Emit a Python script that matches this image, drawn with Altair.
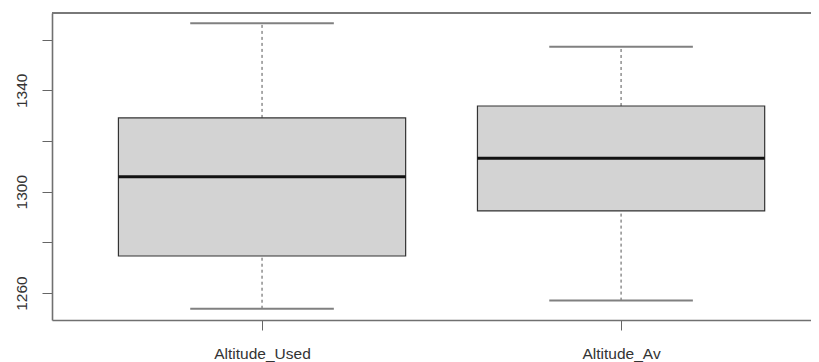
import altair as alt
import pandas as pd

# Data
categories = ["Altitude_Used", "Altitude_Av"]
positions = [1, 2]
lower_whisker = [1253.8, 1257.0]
q1 = [1274.6, 1292.4]
median = [1305.9, 1313.2]
q3 = [1329.1, 1333.8]
upper_whisker = [1366.5, 1357.2]
y_ticks = [1260, 1280, 1300, 1320, 1340, 1360]

df = pd.DataFrame({
    "category": categories,
    "pos": positions,
    "lower": lower_whisker,
    "q1": q1,
    "median": median,
    "q3": q3,
    "upper": upper_whisker,
})

FONT = "Liberation Sans"
FRAME = "#707070"
W = 759
H = 307

x_scale = alt.Scale(domain=[0.415, 2.529], nice=False, zero=False)
y_scale = alt.Scale(domain=[1249.35, 1370.5], nice=False, zero=False)

label_expr = "[" + ",".join("'" + c + "'" for c in categories) + "][datum.value - 1]"

x_axis = alt.Axis(
    values=positions, labelExpr=label_expr, title=None, grid=False,
    tickSize=10, tickColor="#666", tickWidth=1,
    domainColor=FRAME, domainWidth=1.6,
    labelFont=FONT, labelFontSize=15.5, labelColor="#333",
    labelPadding=16, labelOverlap=False, labelFlush=False, labelBound=False,
    labelBaseline="top",
)
y_axis = alt.Axis(
    values=y_ticks, format="d",
    labelExpr="datum.value % 40 == 20 ? datum.label : ''",
    title=None, grid=False,
    tickSize=10, tickColor="#666", tickWidth=1,
    domainColor=FRAME, domainWidth=1.6,
    labelFont=FONT, labelFontSize=15.5, labelColor="#333",
    labelAngle=270, labelAlign="center", labelBaseline="bottom",
    labelPadding=13, labelOverlap=False,
)

base = alt.Chart(df).transform_calculate(
    bl="datum.pos - 0.4", br="datum.pos + 0.4",
    cl="datum.pos - 0.2", cr="datum.pos + 0.2",
)

box = base.mark_rect(fill="#d3d3d3", stroke="#333", strokeWidth=1.2).encode(
    x=alt.X("bl:Q", scale=x_scale, axis=x_axis),
    x2="br:Q",
    y=alt.Y("q1:Q", scale=y_scale, axis=y_axis),
    y2="q3:Q",
)

med = base.mark_rule(color="#111", strokeWidth=3).encode(
    x=alt.X("bl:Q", scale=x_scale, axis=x_axis),
    x2="br:Q",
    y=alt.Y("median:Q", scale=y_scale, axis=y_axis),
)

whisk_low = base.mark_rule(color="#555", strokeWidth=1, strokeDash=[3, 3]).encode(
    x=alt.X("pos:Q", scale=x_scale, axis=x_axis),
    y=alt.Y("lower:Q", scale=y_scale, axis=y_axis),
    y2="q1:Q",
)
whisk_high = base.mark_rule(color="#555", strokeWidth=1, strokeDash=[3, 3]).encode(
    x=alt.X("pos:Q", scale=x_scale, axis=x_axis),
    y=alt.Y("q3:Q", scale=y_scale, axis=y_axis),
    y2="upper:Q",
)

cap_low = base.mark_rule(color="#808080", strokeWidth=2).encode(
    x=alt.X("cl:Q", scale=x_scale, axis=x_axis),
    x2="cr:Q",
    y=alt.Y("lower:Q", scale=y_scale, axis=y_axis),
)
cap_high = base.mark_rule(color="#808080", strokeWidth=2).encode(
    x=alt.X("cl:Q", scale=x_scale, axis=x_axis),
    x2="cr:Q",
    y=alt.Y("upper:Q", scale=y_scale, axis=y_axis),
)

top_frame = alt.Chart(df).mark_rule(color=FRAME, strokeWidth=1.6).encode(
    x=alt.value(0), x2=alt.value(W), y=alt.value(0)
)

chart = alt.layer(
    whisk_low, whisk_high, cap_low, cap_high, box, med, top_frame
).properties(
    width=W, height=H,
    padding={"left": 44, "top": 5, "right": 0, "bottom": 42},
    autosize=alt.AutoSizeParams(type="none"),
    background="white",
).configure_view(stroke=None)

chart.save("out.html", embed_options={"renderer": "svg", "actions": False})
